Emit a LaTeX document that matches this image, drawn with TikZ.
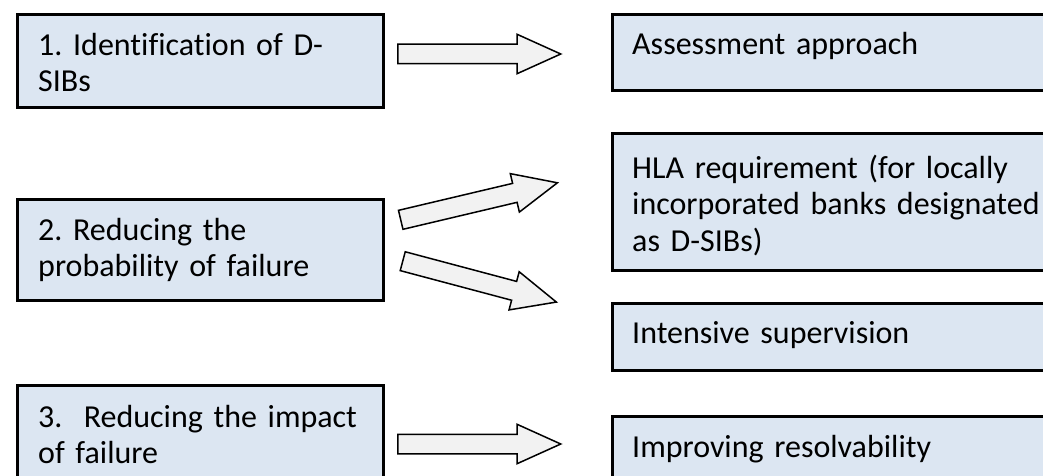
\documentclass[tikz,border=0pt]{standalone}
\usepackage{fontspec}
\setmainfont{Carlito}[Ligatures=NoCommon]
\usetikzlibrary{shapes.arrows}
\definecolor{boxblue}{RGB}{220,230,242}
\definecolor{arrowgray}{RGB}{242,242,242}
\frenchspacing
\tikzset{
  panel/.style={draw, rectangle, line width=3pt, fill=boxblue, anchor=north west},
  paneltext/.style={anchor=base west, inner sep=0pt, text width=420pt, align=left,
    font=\fontsize{32}{36.5}\selectfont},
  bigarrow/.style={draw, single arrow, line width=1.5pt, fill=arrowgray, anchor=tail,
    inner xsep=0pt, inner ysep=9pt, single arrow head extend=10pt,
    single arrow tip angle=48.6}
}
\begin{document}
\begin{tikzpicture}[x=1pt, y=-1pt]
	\clip (0,0) rectangle (1043,476);

	% Left column: the three measures
	\node[panel, minimum width=366pt, minimum height=93pt] (ident) at (16,13.5) {};
	\node[paneltext] (identtxt) at (38,55.5) {1. Identification of D-\\SIBs};

	\node[panel, minimum width=366pt, minimum height=101pt] (prob) at (16,198) {};
	\node[paneltext] (probtxt) at (38,240) {2. Reducing the\\probability of failure};

	\node[panel, minimum width=366pt, minimum height=120pt] (impact) at (16,384) {};
	\node[paneltext] (impacttxt) at (38,427) {3.\ \ Reducing the impact\\of failure};

	% Right column: what each measure involves
	\node[panel, minimum width=450pt, minimum height=75.5pt] (assess) at (610.5,13.5) {};
	\node[paneltext] (assesstxt) at (632,55) {Assessment approach};

	\node[panel, minimum width=450pt, minimum height=137.5pt] (hla) at (610.5,131.5) {};
	\node[paneltext] (hlatxt) at (632,178) {HLA requirement (for locally\\incorporated banks designated\\as D-SIBs)};

	\node[panel, minimum width=450pt, minimum height=67.5pt] (superv) at (610.5,301.5) {};
	\node[paneltext] (supervtxt) at (632,343.5) {Intensive supervision};

	\node[panel, minimum width=450pt, minimum height=90pt] (resolv) at (610.5,415) {};
	\node[paneltext] (resolvtxt) at (632,457) {Improving resolvability};

	% Block arrows
	\node[bigarrow, minimum height=163pt] (arrassess) at (397,54) {};
	\node[bigarrow, minimum height=161pt, rotate=13.3] (arrhla) at (400,220) {};
	\node[bigarrow, minimum height=159pt, rotate=-14.9] (arrsuperv) at (402,261) {};
	\node[bigarrow, minimum height=163pt] (arrresolv) at (397,444) {};
\end{tikzpicture}
\end{document}
